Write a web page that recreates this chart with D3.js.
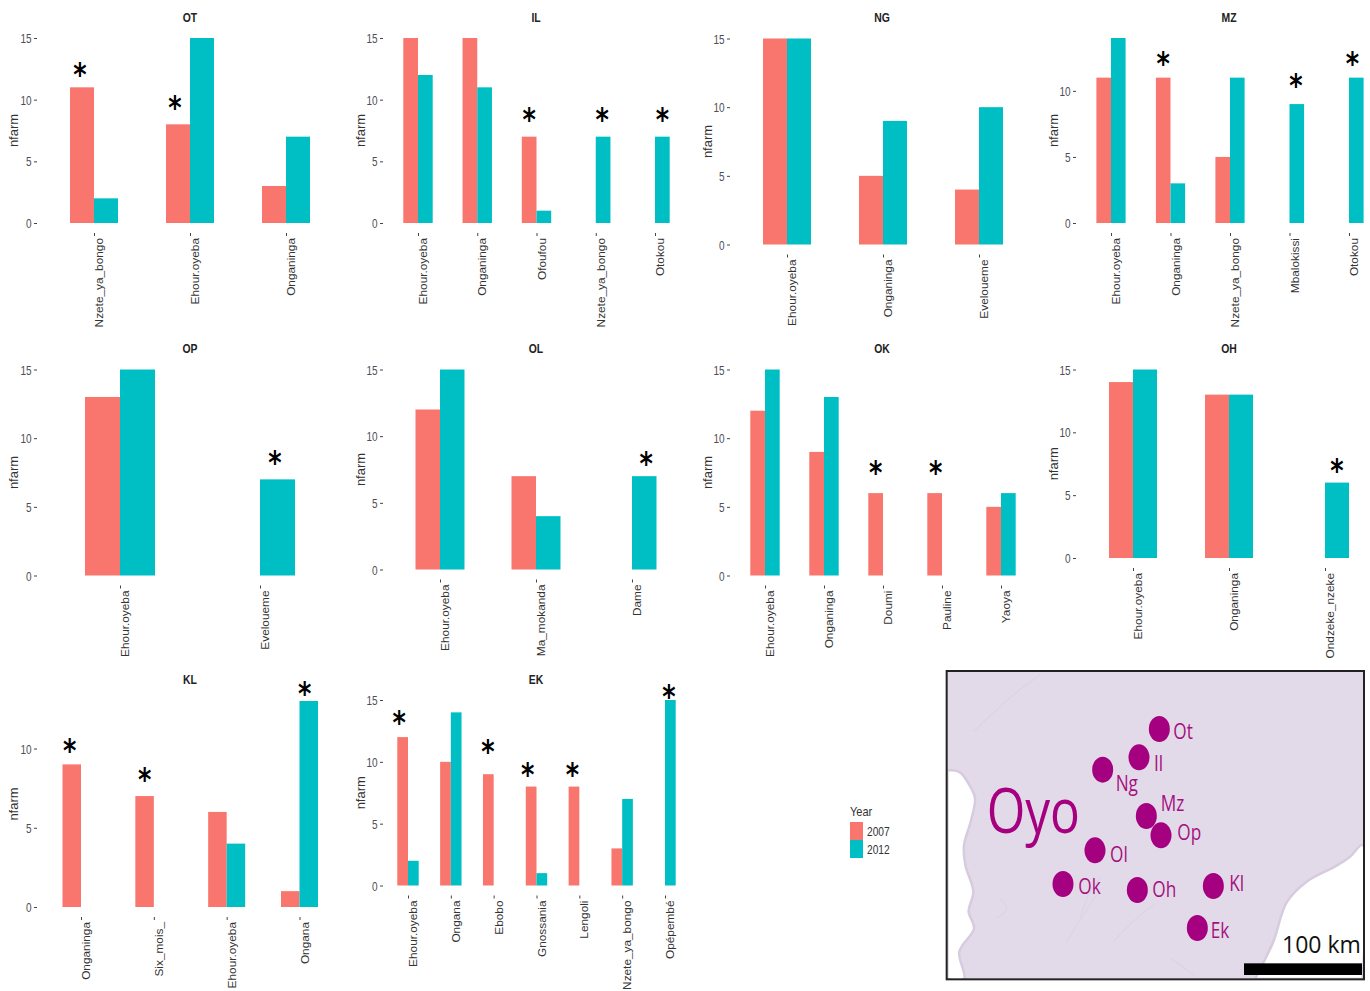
<!DOCTYPE html>
<html><head><meta charset="utf-8">
<script src="https://cdn.jsdelivr.net/npm/d3@7"></script>
<style>html,body{margin:0;padding:0;background:#fff}svg{display:block}</style>
</head><body><svg id="c" width="1370" height="991"></svg>
<script>
// ---- data ----
const seriesNames = ["2007","2012"];
const seriesColors = ["#F8766D","#00BFC4"];
const otCats = ["Nzete_ya_bongo","Ehour.oyeba","Onganinga"];
const ot2007 = [11,8,3];
const ot2012 = [2,15,7];
const otStars = [["Nzete_ya_bongo",0,12.5],["Ehour.oyeba",0,9.8]];
const ilCats = ["Ehour.oyeba","Onganinga","Ofoufou","Nzete_ya_bongo","Otokou"];
const il2007 = [15,15,7,null,null];
const il2012 = [12,11,1,7,7];
const ilStars = [["Ofoufou",0,8.8],["Nzete_ya_bongo",1,8.8],["Otokou",1,8.8]];
const ngCats = ["Ehour.oyeba","Onganinga","Eveloueme"];
const ng2007 = [15,5,4];
const ng2012 = [15,9,10];
const ngStars = [];
const mzCats = ["Ehour.oyeba","Onganinga","Nzete_ya_bongo","Mbalokissi","Otokou"];
const mz2007 = [11,11,5,null,null];
const mz2012 = [14,3,11,9,11];
const mzStars = [["Onganinga",0,12.5],["Mbalokissi",1,10.8],["Otokou",1,12.5]];
const opCats = ["Ehour.oyeba","Eveloueme"];
const op2007 = [13,null];
const op2012 = [15,7];
const opStars = [["Eveloueme",1,8.6]];
const olCats = ["Ehour.oyeba","Ma_mokanda","Dame"];
const ol2007 = [12,7,null];
const ol2012 = [15,4,7];
const olStars = [["Dame",1,8.4]];
const okCats = ["Ehour.oyeba","Onganinga","Doumi","Pauline","Yaoya"];
const ok2007 = [12,9,6,6,5];
const ok2012 = [15,13,null,null,6];
const okStars = [["Doumi",0,7.9],["Pauline",0,7.9]];
const ohCats = ["Ehour.oyeba","Onganinga","Ondzeke_nzeke"];
const oh2007 = [14,13,null];
const oh2012 = [15,13,6];
const ohStars = [["Ondzeke_nzeke",1,7.4]];
const klCats = ["Onganinga","Six_mois_","Ehour.oyeba","Ongana"];
const kl2007 = [9,7,6,1];
const kl2012 = [null,null,4,13];
const klStars = [["Onganinga",0,10.2],["Six_mois_",0,8.4],["Ongana",1,13.8]];
const ekCats = ["Ehour.oyeba","Ongana","Ebobo","Gnossania","Lengoli","Nzete_ya_bongo","Opépembé"];
const ek2007 = [12,10,9,8,8,3,null];
const ek2012 = [2,14,null,1,null,7,15];
const ekStars = [["Ehour.oyeba",0,13.6],["Ebobo",0,11.3],["Gnossania",0,9.4],["Lengoli",0,9.4],["Opépembé",1,15.7]];
const yTicks = [0,5,10,15];

const siteNames = ["Ot","Il","Ng","Mz","Op","Ol","Ok","Oh","Kl","Ek"];
const siteX = [658,597,488,619,663,465,369,592,820,772];
const siteY = [192,277,314,453,511,556,657,675,663,789];
const siteLabelX = [700,642,527,662,712,510,415,637,868,812];
const siteLabelY = [222,318,378,438,525,590,688,695,678,820];
const coastWest = [[22,315],[60,322],[88,360],[105,400],[92,470],[72,540],[76,600],[100,680],[86,740],[102,790],[58,860],[72,942],[22,942]];
const coastEast = [[945,942],[1000,830],[1040,712],[1100,650],[1190,602],[1230,575],[1268,540],[1268,942]];
const ridges = [[[420,760],[450,680],[480,640]],[[380,830],[430,750],[470,690]],[[170,760],[200,730],[180,700]],[[520,830],[590,760],[640,720]],[[100,200],[220,90],[300,30]],[[690,880],[720,900],[760,930]]];

// ---- layout ----
const panels = [
 {t:"OT",c:otCats,a:ot2007,b:ot2012,s:otStars,n:[-2,-3],ax:37,nx:14,tx:190,ty:21.5,y0:223,yt:38,d:15,x0:94,x1:286,h:24},
 {t:"IL",c:ilCats,a:il2007,b:il2012,s:ilStars,n:[0,-1,0],ax:383,nx:361,tx:536,ty:21.5,y0:223,yt:38,d:15,x0:418,x1:655,h:14.7},
 {t:"NG",c:ngCats,a:ng2007,b:ng2012,s:ngStars,n:[],ax:730,nx:708,tx:882,ty:21.5,y0:244.5,yt:38.5,d:15,x0:787,x1:979,h:24},
 {t:"MZ",c:mzCats,a:mz2007,b:mz2012,s:mzStars,n:[0,-1,-4],ax:1076,nx:1054,tx:1229,ty:21.5,y0:223,yt:38,d:14,x0:1111,x1:1349,h:14.6},
 {t:"OP",c:opCats,a:op2007,b:op2012,s:opStars,n:[-2.5],ax:37,nx:14,tx:190,ty:352.5,y0:575.5,yt:369.5,d:15,x0:120,x1:260,h:35},
 {t:"OL",c:olCats,a:ol2007,b:ol2012,s:olStars,n:[2],ax:383,nx:361,tx:536,ty:352.5,y0:569.5,yt:369.5,d:15,x0:440,x1:632,h:24.5},
 {t:"OK",c:okCats,a:ok2007,b:ok2012,s:okStars,n:[0,1],ax:730,nx:708,tx:882,ty:352.5,y0:575.5,yt:369.5,d:15,x0:765,x1:1001,h:14.7},
 {t:"OH",c:ohCats,a:oh2007,b:oh2012,s:ohStars,n:[0],ax:1076,nx:1054,tx:1229,ty:352.5,y0:558,yt:369.5,d:15,x0:1133,x1:1325,h:24},
 {t:"KL",c:klCats,a:kl2007,b:kl2012,s:klStars,n:[-2,0,-4],ax:37,nx:14,tx:190,ty:683.5,y0:907,yt:701,d:13,x0:81,x1:299.5,h:18.5},
 {t:"EK",c:ekCats,a:ek2007,b:ek2012,s:ekStars,n:[-3.5,-0.5,-3.5,-1.5,-1.5],ax:383,nx:361,tx:536,ty:683.5,y0:885.5,yt:700,d:15,x0:408,x1:665,h:10.7}
];
const svg = d3.select("#c");
const sans = "'Liberation Sans',Arial,sans-serif";

panels.forEach(p=>{
  const g = svg.append("g");
  const x = d3.scalePoint().domain(p.c).range([p.x0,p.x1]);
  const y = d3.scaleLinear().domain([0,p.d]).range([p.y0,p.yt]);
  const rows = p.c.flatMap((k,i)=>[{k,j:0,v:p.a[i]},{k,j:1,v:p.b[i]}]).filter(r=>r.v!==null);
  g.selectAll("rect").data(rows).join("rect")
    .attr("x",r=>x(r.k)+(r.j?0:-p.h)).attr("width",p.h)
    .attr("y",r=>y(r.v)).attr("height",r=>y(0)-y(r.v))
    .attr("fill",r=>seriesColors[r.j]);
  const ya = g.append("g").attr("transform",`translate(${p.ax},0)`)
    .call(d3.axisLeft(y).tickValues(yTicks.filter(t=>t<=p.d)).tickSize(3).tickPadding(0));
  ya.select(".domain").remove();
  ya.selectAll("line").attr("stroke","#444");
  ya.selectAll("text").attr("fill","#4d4d55").attr("x",0).attr("dy","0.36em")
    .attr("transform","translate(-5.5,0) scale(.8,1)").style("font",`12.5px ${sans}`);
  const xa = g.append("g").attr("transform",`translate(0,${p.y0+10})`)
    .call(d3.axisBottom(x).tickSize(3));
  xa.select(".domain").remove();
  xa.selectAll("line").attr("stroke","#444");
  xa.selectAll("text").remove();
  g.selectAll("text.xl").data(p.c).join("text").attr("class","xl")
    .attr("transform",k=>`translate(${x(k)+9},${p.y0+15}) rotate(-90) scale(1.15,1)`)
    .attr("text-anchor","end").attr("fill","#333").style("font",`10.3px ${sans}`).text(k=>k);
  g.append("text").attr("transform",`translate(${p.nx+3.7},${(p.y0+p.yt)/2}) rotate(-90)`)
    .attr("text-anchor","middle").attr("fill","#333").style("font",`13px ${sans}`).text("nfarm");
  g.append("text").attr("transform",`translate(${p.tx},${p.ty}) scale(.8,1)`).attr("text-anchor","middle")
    .attr("fill","#222").style("font",`bold 13px ${sans}`).text(p.t);
  g.selectAll("text.st").data(p.s).join("text").attr("class","st")
    .attr("transform",(s,i)=>`translate(${x(s[0])+(s[1]?p.h/2:-p.h/2)+p.n[i]},${y(s[2])+16}) scale(.88,1.1)`)
    .attr("text-anchor","middle").attr("fill","#000")
    .style("font","bold 29px 'DejaVu Sans',sans-serif").text("*");
});

// legend
const leg = svg.append("g");
leg.append("text").attr("transform","translate(850,816) scale(.85,1)").attr("fill","#333").style("font",`13px ${sans}`).text("Year");
const legY = d3.scaleBand().domain(seriesNames).range([822,858]);
leg.selectAll("rect").data(seriesNames).join("rect").attr("x",850).attr("width",13)
  .attr("y",d=>legY(d)).attr("height",legY.bandwidth()).attr("fill",(d,i)=>seriesColors[i]);
leg.selectAll("text.l").data(seriesNames).join("text").attr("class","l")
  .attr("transform",d=>`translate(867,${legY(d)+14}) scale(.85,1)`).attr("fill","#333").style("font",`12px ${sans}`).text(d=>d);

// map
const mx = d3.scaleLinear().domain([0,1290]).range([940,1370]);
const my = d3.scaleLinear().domain([0,978]).range([665,991]);
const m = svg.append("g");
const bx0=mx(20),bx1=mx(1272),by0=my(18),by1=my(943);
m.append("clipPath").attr("id","mc").append("rect").attr("x",bx0).attr("y",by0).attr("width",bx1-bx0).attr("height",by1-by0);
const mg = m.append("g").attr("clip-path","url(#mc)");
mg.append("rect").attr("x",bx0).attr("y",by0).attr("width",bx1-bx0).attr("height",by1-by0).attr("fill","#e2dae8");
const line = d3.line().x(d=>mx(d[0])).y(d=>my(d[1])).curve(d3.curveCatmullRom);
mg.selectAll("path.r").data(ridges).join("path").attr("class","r").attr("d",line).attr("fill","none").attr("stroke","#dcd4e2").attr("stroke-width",1.2);
[coastWest,coastEast].forEach(c=>{
  mg.append("path").attr("d",line(c)+"Z").attr("fill","#fff").attr("stroke","#d6cbdf").attr("stroke-width",2.5);
});
m.append("rect").attr("x",bx0).attr("y",by0).attr("width",bx1-bx0).attr("height",by1-by0).attr("fill","none").attr("stroke","#222").attr("stroke-width",2);
const sites = siteNames.map((n,i)=>({n,x:siteX[i],y:siteY[i],lx:siteLabelX[i],ly:siteLabelY[i]}));
m.selectAll("ellipse").data(sites).join("ellipse").attr("cx",d=>mx(d.x)).attr("cy",d=>my(d.y)).attr("rx",10.5).attr("ry",13).attr("fill","#a5007f");
m.selectAll("text.s").data(sites).join("text").attr("class","s")
  .attr("transform",d=>`translate(${mx(d.lx)},${my(d.ly)}) scale(.82,1)`)
  .attr("fill","#a5107f").style("font","21px 'Open Sans',sans-serif").text(d=>d.n);
m.append("text").attr("transform",`translate(${mx(140)},${my(505)}) scale(.8,1)`).attr("fill","#a5007f").style("font","62px 'Open Sans',sans-serif").text("Oyo");
m.append("text").attr("x",mx(1026)).attr("y",my(865)).attr("fill","#111").style("font","23px 'Open Sans',sans-serif").text("100 km");
m.append("rect").attr("x",mx(912)).attr("y",my(895)).attr("width",mx(1266)-mx(912)).attr("height",my(930)-my(895)).attr("fill","#000");
</script></body></html>
